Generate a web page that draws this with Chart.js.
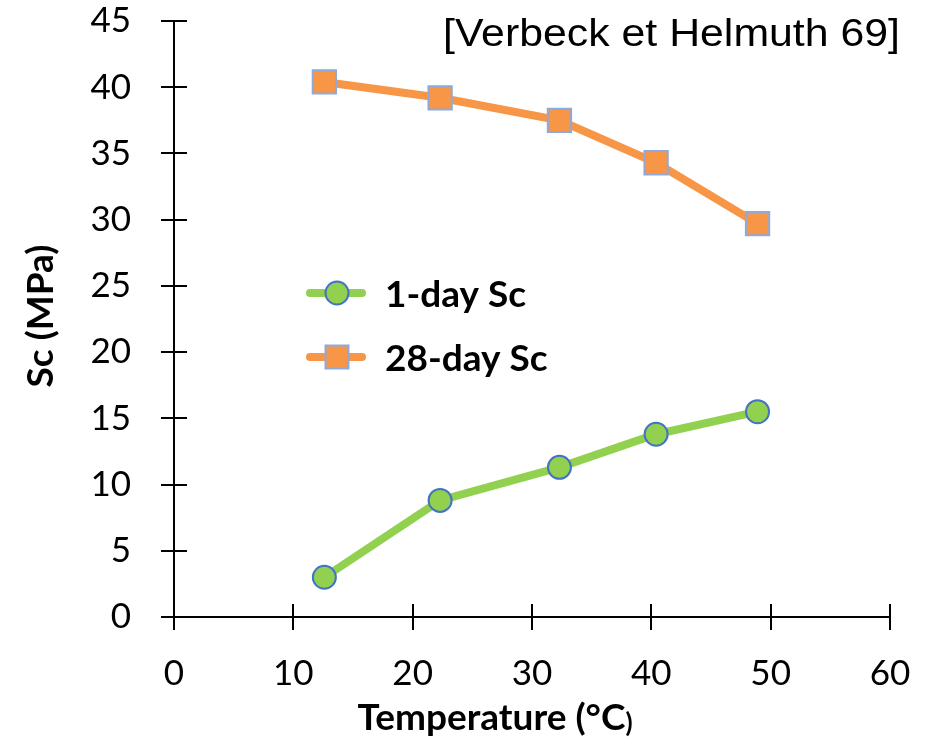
<!DOCTYPE html>
<html>
<head>
<meta charset="utf-8">
<script src="https://cdn.jsdelivr.net/npm/chart.js@4.4.0/dist/chart.umd.min.js"></script>
<style>
  html, body { margin: 0; padding: 0; background: #fff; }
  canvas { display: block; }
</style>
</head>
<body>
<canvas id="chart" width="933" height="748"></canvas>
<script>
// values
const temperatures = [12.6, 22.3, 32.3, 40.4, 48.9];
const sc1Day = [3.0, 8.8, 11.3, 13.8, 15.5];
const sc28Day = [40.4, 39.2, 37.5, 34.3, 29.7];
const seriesNames = ['1-day Sc', '28-day Sc'];
const xTickValues = [0, 10, 20, 30, 40, 50, 60];
const yTickValues = [0, 5, 10, 15, 20, 25, 30, 35, 40, 45];
const xTitle = 'Temperature (°C';
const xTitleTail = ')';
const yTitle = 'Sc (MPa)';
const sourceNote = '[Verbeck et Helmuth 69]';

const GREEN = '#92D050';
const ORANGE = '#F79646';
const TICK_FONT = '35px Lato';
const BOLD_FONT = 'bold 37px Lato';
const NOTE_FONT = '38px "Liberation Sans"';

const toPoints = (ys) => ys.map((y, i) => ({ x: temperatures[i], y: y }));

// crossing tick marks, axis titles, inner legend, source note
const decorations = {
  id: 'decorations',
  afterDraw(chart) {
    const ctx = chart.ctx;
    const xs = chart.scales.x;
    const ys = chart.scales.y;
    const area = chart.chartArea;
    ctx.save();
    ctx.strokeStyle = '#000';
    ctx.lineWidth = 2;
    ctx.beginPath();
    xs.ticks.forEach(t => {
      const px = Math.round(xs.getPixelForValue(t.value));
      ctx.moveTo(px, area.bottom - 13);
      ctx.lineTo(px, area.bottom + 13);
    });
    ys.ticks.forEach(t => {
      const py = Math.round(ys.getPixelForValue(t.value));
      ctx.moveTo(area.left - 13, py);
      ctx.lineTo(area.left + 13, py);
    });
    ctx.stroke();

    // y title
    ctx.fillStyle = '#000';
    ctx.font = BOLD_FONT;
    ctx.textAlign = 'center';
    ctx.textBaseline = 'middle';
    ctx.save();
    ctx.translate(41, 316);
    ctx.rotate(-Math.PI / 2);
    ctx.fillText(yTitle, 0, 0);
    ctx.restore();

    // x title, closing bracket set smaller like the original
    ctx.font = BOLD_FONT;
    const w1 = ctx.measureText(xTitle).width;
    ctx.font = 'bold 26px Lato';
    const w2 = ctx.measureText(xTitleTail).width;
    const x0 = 495 - (w1 + w2) / 2;
    ctx.textAlign = 'left';
    ctx.textBaseline = 'alphabetic';
    ctx.font = BOLD_FONT;
    ctx.fillText(xTitle, x0, 730);
    ctx.font = 'bold 26px Lato';
    ctx.fillText(xTitleTail, x0 + w1, 732);

    // legend inside the plot
    const rows = [
      { y: 293, color: GREEN, border: '#4472C4', shape: 'circle' },
      { y: 357, color: ORANGE, border: '#8EA9DB', shape: 'rect' }
    ];
    rows.forEach((r, i) => {
      ctx.strokeStyle = r.color;
      ctx.lineWidth = 8;
      ctx.lineCap = 'round';
      ctx.beginPath();
      ctx.moveTo(310, r.y);
      ctx.lineTo(362, r.y);
      ctx.stroke();
      ctx.fillStyle = r.color;
      ctx.strokeStyle = r.border;
      ctx.lineWidth = 2;
      ctx.beginPath();
      if (r.shape === 'circle') ctx.arc(337, r.y, 11.5, 0, Math.PI * 2);
      else ctx.rect(337 - 11.5, r.y - 11.5, 23, 23);
      ctx.fill();
      ctx.stroke();
      ctx.fillStyle = '#000';
      ctx.font = BOLD_FONT;
      ctx.textAlign = 'left';
      ctx.textBaseline = 'middle';
      ctx.fillText(seriesNames[i], 385, r.y + 2);
    });

    // source note, stretched to the width it takes in the original
    ctx.font = NOTE_FONT;
    ctx.textAlign = 'left';
    ctx.textBaseline = 'alphabetic';
    const natural = ctx.measureText(sourceNote).width;
    ctx.save();
    ctx.translate(443, 46);
    ctx.scale(457 / natural, 1);
    ctx.fillText(sourceNote, 0, 0);
    ctx.restore();
    ctx.restore();
  }
};

function draw() {
  new Chart(document.getElementById('chart'), {
    type: 'line',
    data: {
      datasets: [
        {
          label: seriesNames[0],
          data: toPoints(sc1Day),
          borderColor: GREEN,
          backgroundColor: GREEN,
          borderWidth: 8,
          pointStyle: 'circle',
          pointRadius: 11.5,
          pointBackgroundColor: GREEN,
          pointBorderColor: '#4472C4',
          pointBorderWidth: 2,
          tension: 0
        },
        {
          label: seriesNames[1],
          data: toPoints(sc28Day),
          borderColor: ORANGE,
          backgroundColor: ORANGE,
          borderWidth: 8,
          pointStyle: 'rect',
          pointRadius: 16.5,
          pointBackgroundColor: ORANGE,
          pointBorderColor: '#8EA9DB',
          pointBorderWidth: 2,
          tension: 0
        }
      ]
    },
    options: {
      responsive: false,
      animation: false,
      events: [],
      layout: { padding: { top: 21, right: 43, left: 0, bottom: 0 } },
      plugins: { legend: { display: false }, tooltip: { enabled: false } },
      scales: {
        x: {
          type: 'linear',
          min: 0,
          max: 60,
          afterBuildTicks: (s) => { s.ticks = xTickValues.map(v => ({ value: v })); },
          afterFit: (s) => { s.height = 131; s.paddingLeft = 0; s.paddingRight = 0; },
          grid: { drawOnChartArea: false, drawTicks: false },
          border: { color: '#000', width: 2 },
          ticks: { font: { family: 'Lato', size: 35 }, color: '#000', padding: 36, maxRotation: 0 }
        },
        y: {
          type: 'linear',
          min: 0,
          max: 45,
          afterBuildTicks: (s) => { s.ticks = yTickValues.map(v => ({ value: v })); },
          afterFit: (s) => { s.width = 174; s.paddingTop = 0; s.paddingBottom = 0; },
          grid: { drawOnChartArea: false, drawTicks: false },
          border: { color: '#000', width: 2 },
          ticks: { font: { family: 'Lato', size: 35 }, color: '#000', padding: 43 }
        }
      }
    },
    plugins: [decorations]
  });
}

Promise.all([
  document.fonts.load(TICK_FONT),
  document.fonts.load(BOLD_FONT),
  document.fonts.load(NOTE_FONT)
]).then(draw, draw);
</script>
</body>
</html>
